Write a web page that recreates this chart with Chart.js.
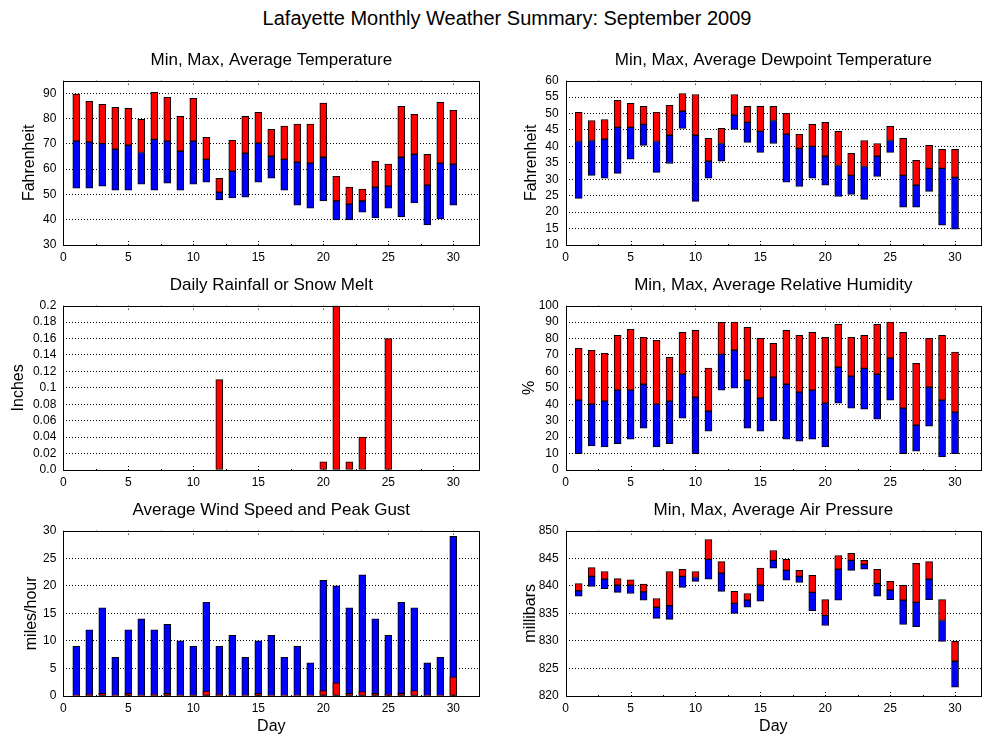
<!DOCTYPE html>
<html>
<head>
<meta charset="utf-8">
<title>Lafayette Monthly Weather Summary: September 2009</title>
<script src="https://cdn.jsdelivr.net/npm/chart.js@4.4.0/dist/chart.umd.min.js"></script>
<style>
  body { margin: 0; background: #fff; }
  #page { position: relative; width: 1000px; height: 750px; font-family: 'Liberation Sans', Arial, sans-serif; }
  #mainTitle { position: absolute; left: 0; top: 6px; width: 1014px; text-align: center; font-size: 20px; line-height: 24px; color: #000; }
  canvas { position: absolute; }
</style>
</head>
<body>
<div id="page">
  <div id="mainTitle">Lafayette Monthly Weather Summary: September 2009</div>
  <canvas id="tempChart" width="500" height="225" style="left:0;top:40px"></canvas>
  <canvas id="dewChart" width="500" height="225" style="left:500px;top:40px"></canvas>
  <canvas id="rainChart" width="500" height="225" style="left:0;top:265px"></canvas>
  <canvas id="humChart" width="500" height="225" style="left:500px;top:265px"></canvas>
  <canvas id="windChart" width="500" height="260" style="left:0;top:490px"></canvas>
  <canvas id="presChart" width="500" height="260" style="left:500px;top:490px"></canvas>
</div>
<script>
// --- datos del mes ---
const days = [1, 2, 3, 4, 5, 6, 7, 8, 9, 10, 11, 12, 13, 14, 15, 16, 17, 18, 19, 20, 21, 22, 23, 24, 25, 26, 27, 28, 29, 30];

const tempMax = [89.7, 86.8, 85.7, 84.5, 84.1, 79.7, 90.4, 88.4, 80.9, 88.0, 72.6, 56.4, 71.4, 80.9, 82.5, 75.8, 77.0, 77.8, 77.8, 86.1, 57.2, 52.9, 52.1, 63.2, 62.0, 84.9, 81.7, 65.9, 86.4, 83.3];
const tempAvg = [71.1, 70.7, 70.1, 67.9, 69.5, 66.6, 71.8, 71.1, 67.1, 71.1, 63.9, 50.9, 59.2, 66.3, 70.3, 65.1, 63.9, 62.8, 62.4, 64.7, 47.4, 46.2, 47.4, 52.9, 53.3, 64.7, 65.9, 53.7, 62.4, 62.0];
const tempMin = [52.5, 52.5, 53.3, 51.7, 51.7, 54.1, 51.7, 54.5, 51.7, 54.1, 54.9, 47.8, 48.6, 48.9, 54.9, 56.4, 51.7, 45.8, 44.6, 47.4, 39.9, 39.9, 43.0, 40.7, 44.6, 41.1, 46.6, 37.9, 40.3, 45.8];

const dewMax = [50.4, 47.9, 48.2, 54.0, 53.1, 52.2, 50.4, 52.5, 56.1, 55.8, 42.5, 45.5, 55.8, 52.2, 52.2, 52.2, 50.1, 43.7, 46.7, 47.3, 44.6, 37.9, 41.8, 40.9, 46.1, 42.5, 35.8, 40.3, 39.1, 39.1];
const dewAvg = [41.5, 41.8, 42.2, 45.8, 45.8, 46.7, 41.5, 43.4, 50.7, 43.4, 35.5, 40.9, 49.5, 47.3, 44.6, 47.9, 43.7, 39.4, 40.0, 37.0, 34.2, 31.2, 33.9, 37.0, 41.8, 31.2, 28.2, 33.3, 33.3, 30.6];
const dewMin = [24.2, 31.2, 30.3, 31.8, 36.1, 40.3, 32.1, 34.8, 45.5, 23.3, 30.3, 35.5, 45.2, 41.2, 38.2, 40.9, 29.1, 27.8, 30.3, 28.2, 24.8, 25.4, 23.9, 30.9, 38.2, 21.5, 21.5, 26.3, 16.0, 14.8];

const rain = [0, 0, 0, 0, 0, 0, 0, 0, 0, 0, 0, 0.11, 0, 0, 0, 0, 0, 0, 0, 0.01, 0.2, 0.01, 0.04, 0, 0.16, 0, 0, 0, 0, 0];

const humMax = [74.1, 72.9, 71.0, 82.0, 85.6, 80.8, 78.9, 68.6, 83.8, 85.0, 62.1, 89.9, 90.0, 86.8, 80.2, 77.1, 85.0, 82.0, 83.8, 80.8, 88.7, 80.8, 82.0, 88.7, 90.0, 83.8, 65.0, 80.2, 82.0, 71.7];
const humAvg = [42.5, 40.1, 41.9, 48.6, 48.6, 52.2, 40.1, 41.9, 58.3, 44.3, 35.8, 70.4, 72.9, 54.7, 43.7, 56.5, 52.2, 47.4, 48.6, 40.7, 62.6, 57.1, 61.9, 58.3, 68.0, 37.7, 27.3, 50.4, 42.5, 35.2];
const humMin = [10.0, 14.6, 14.0, 16.0, 18.8, 25.5, 14.0, 16.0, 31.6, 10.0, 23.7, 48.6, 49.8, 25.5, 23.7, 29.8, 18.8, 17.6, 18.8, 14.0, 40.7, 37.7, 37.0, 31.0, 42.5, 10.0, 11.5, 26.7, 7.9, 10.0];

const windGust = [9, 12, 16, 7, 12, 14, 12, 13, 10, 9, 17, 9, 11, 7, 10, 11, 7, 9, 6, 21, 20, 16, 22, 14, 11, 17, 16, 6, 7, 29];
const windAvg = [0.1, 0.3, 0.5, 0.1, 0.5, 0.1, 0.3, 0.5, 0.1, 0.1, 0.9, 0.3, 0.1, 0.1, 0.5, 0.1, 0.1, 0.1, 0.1, 1.0, 2.4, 0.5, 0.8, 0.5, 0.3, 0.5, 1.0, 0.1, 0.1, 3.5];

const presMax = [840.4, 843.3, 842.6, 841.3, 841.1, 840.3, 837.7, 842.6, 843.0, 842.6, 848.4, 844.4, 839.0, 838.6, 843.2, 846.4, 844.8, 842.8, 841.9, 837.5, 845.5, 845.9, 844.6, 843.0, 840.8, 840.1, 844.1, 844.4, 837.5, 829.9];
const presAvg = [839.1, 841.7, 841.2, 840.1, 840.1, 838.9, 836.1, 836.4, 841.7, 841.5, 844.8, 842.3, 836.8, 837.4, 840.1, 844.6, 842.8, 841.7, 838.8, 834.6, 843.0, 844.6, 843.9, 840.4, 839.2, 837.4, 837.0, 841.2, 833.7, 826.3];
const presMin = [838.1, 839.9, 839.5, 838.8, 838.6, 837.4, 834.1, 833.9, 839.7, 840.8, 841.2, 839.0, 835.0, 836.1, 837.2, 843.2, 841.0, 840.6, 835.5, 832.8, 837.4, 842.8, 843.0, 838.1, 837.5, 833.0, 832.6, 837.5, 829.9, 821.6];

// --- ejes ---
const dayTicks = [0, 5, 10, 15, 20, 25, 30];
const dayMinorTicks = [2.5, 7.5, 12.5, 17.5, 22.5, 27.5];
const tempTicks = [30, 40, 50, 60, 70, 80, 90];
const dewTicks = [10, 15, 20, 25, 30, 35, 40, 45, 50, 55, 60];
const rainTicks = [0, 0.02, 0.04, 0.06, 0.08, 0.1, 0.12, 0.14, 0.16, 0.18, 0.2];
const rainTickLabels = ['0.0', '0.02', '0.04', '0.06', '0.08', '0.1', '0.12', '0.14', '0.16', '0.18', '0.2'];
const humTicks = [0, 10, 20, 30, 40, 50, 60, 70, 80, 90, 100];
const windTicks = [0, 5, 10, 15, 20, 25, 30];
const presTicks = [820, 825, 830, 835, 840, 845, 850];

const RED = '#ff0000';
const BLUE = '#0000ff';
const FONT = "'Liberation Sans', Arial, sans-serif";

Chart.defaults.font.family = FONT;
Chart.defaults.color = '#000';

function floating(lo, hi) {
    return days.map((d, i) => ({ x: d, y: [lo[i], hi[i]] }));
}

function barSet(data, color, order) {
    return {
        data: data,
        backgroundColor: color,
        borderColor: '#000',
        borderWidth: 1,
        borderSkipped: false,
        barThickness: 7,
        grouped: false,
        order: order
    };
}

// marco y marcas interiores estilo gnuplot
const framePlugin = {
    id: 'frame',
    beforeDatasetsDraw(chart) {
        const { ctx, chartArea: a, scales: { x } } = chart;
        ctx.save();
        ctx.strokeStyle = '#000';
        ctx.lineWidth = 1;
        ctx.setLineDash([1, 2]);
        const mark = (v, len) => {
            const px = Math.round(x.getPixelForValue(v)) + 0.5;
            ctx.beginPath();
            ctx.moveTo(px, a.top);
            ctx.lineTo(px, a.top + len);
            ctx.moveTo(px, a.bottom);
            ctx.lineTo(px, a.bottom - len);
            ctx.stroke();
        };
        dayTicks.forEach(v => mark(v, 6));
        dayMinorTicks.forEach(v => mark(v, 3));
        ctx.restore();
    },
    afterDraw(chart) {
        const { ctx, chartArea: a } = chart;
        ctx.save();
        ctx.strokeStyle = '#000';
        ctx.lineWidth = 1;
        ctx.strokeRect(Math.round(a.left) + 0.5, Math.round(a.top) + 0.5,
            Math.round(a.right - a.left), Math.round(a.bottom - a.top));
        ctx.restore();
    }
};

function makeChart(id, cfg) {
    const yMin = cfg.yTicks[0];
    return new Chart(document.getElementById(id), {
        type: 'bar',
        data: { datasets: cfg.datasets },
        options: {
            responsive: false,
            animation: false,
            layout: { padding: { left: 0, right: cfg.padRight, top: 0, bottom: 0 } },
            plugins: {
                legend: { display: false },
                tooltip: { enabled: false },
                title: {
                    display: true,
                    text: cfg.title,
                    color: '#000',
                    fullSize: false,
                    font: { size: 17, weight: 'normal' },
                    padding: { top: 9.8, bottom: 10.5 }
                }
            },
            scales: {
                x: {
                    type: 'linear',
                    min: 0,
                    max: 32,
                    offset: false,
                    afterBuildTicks: s => { s.ticks = dayTicks.map(v => ({ value: v })); },
                    afterFit: s => { s.height = cfg.xHeight; },
                    grid: { display: false, drawTicks: false },
                    border: { display: false },
                    ticks: { color: '#000', font: { size: 12 }, padding: 5, maxRotation: 0, autoSkip: false },
                    title: {
                        display: !!cfg.xTitle,
                        text: cfg.xTitle || '',
                        color: '#000',
                        font: { size: 16 },
                        padding: { top: 0, bottom: 13.9 }
                    }
                },
                y: {
                    type: 'linear',
                    min: yMin,
                    max: cfg.yMax,
                    afterBuildTicks: s => { s.ticks = cfg.yTicks.map(v => ({ value: v })); },
                    afterFit: s => { s.width = cfg.yWidth; },
                    grid: {
                        // sin línea punteada sobre el marco
                        color: c => (c.tick && (c.tick.value === yMin || c.tick.value === cfg.yMax)) ? 'rgba(0,0,0,0)' : '#000',
                        lineWidth: 1,
                        drawTicks: false
                    },
                    border: { display: false, dash: [1, 2] },
                    ticks: {
                        color: '#000',
                        font: { size: 12 },
                        padding: 7,
                        autoSkip: false,
                        callback: (v, i) => cfg.yLabels ? cfg.yLabels[i] : v
                    },
                    title: {
                        display: true,
                        text: cfg.yTitle,
                        color: '#000',
                        font: { size: 16 },
                        padding: { top: cfg.yTitlePad, bottom: 0 }
                    }
                }
            }
        },
        plugins: [framePlugin]
    });
}

makeChart('tempChart', {
    title: 'Min, Max, Average Temperature',
    yTitle: 'Fahrenheit', yTitlePad: 20.4, yWidth: 63.3, padRight: 20.7, xHeight: 20,
    yTicks: tempTicks, yMax: 95,
    datasets: [barSet(floating(tempMin, tempAvg), BLUE, 1), barSet(floating(tempAvg, tempMax), RED, 0)]
});

makeChart('dewChart', {
    title: 'Min, Max, Average Dewpoint Temperature',
    yTitle: 'Fahrenheit', yTitlePad: 22.1, yWidth: 65.7, padRight: 19, xHeight: 20,
    yTicks: dewTicks, yMax: 60,
    datasets: [barSet(floating(dewMin, dewAvg), BLUE, 1), barSet(floating(dewAvg, dewMax), RED, 0)]
});

makeChart('rainChart', {
    title: 'Daily Rainfall or Snow Melt',
    yTitle: 'Inches', yTitlePad: 8.7, yWidth: 63.3, padRight: 20.7, xHeight: 20,
    yTicks: rainTicks, yLabels: rainTickLabels, yMax: 0.2,
    datasets: [barSet(days.map((d, i) => ({ x: d, y: rain[i] })), RED, 0)]
});

makeChart('humChart', {
    title: 'Min, Max, Average Relative Humidity',
    yTitle: '%', yTitlePad: 20.4, yWidth: 65.7, padRight: 19, xHeight: 20,
    yTicks: humTicks, yMax: 100,
    datasets: [barSet(floating(humMin, humAvg), BLUE, 1), barSet(floating(humAvg, humMax), RED, 0)]
});

makeChart('windChart', {
    title: 'Average Wind Speed and Peak Gust',
    yTitle: 'miles/hour', yTitlePad: 22.1, yWidth: 63.3, padRight: 20.7, xHeight: 54, xTitle: 'Day',
    yTicks: windTicks, yMax: 30,
    datasets: [
        barSet(days.map((d, i) => ({ x: d, y: windGust[i] })), BLUE, 1),
        barSet(days.map((d, i) => ({ x: d, y: windAvg[i] })), RED, 0)
    ]
});

makeChart('presChart', {
    title: 'Min, Max, Average Air Pressure',
    yTitle: 'millibars', yTitlePad: 21.1, yWidth: 65.7, padRight: 19, xHeight: 54, xTitle: 'Day',
    yTicks: presTicks, yMax: 850,
    datasets: [barSet(floating(presMin, presAvg), BLUE, 1), barSet(floating(presAvg, presMax), RED, 0)]
});
</script>
</body>
</html>
